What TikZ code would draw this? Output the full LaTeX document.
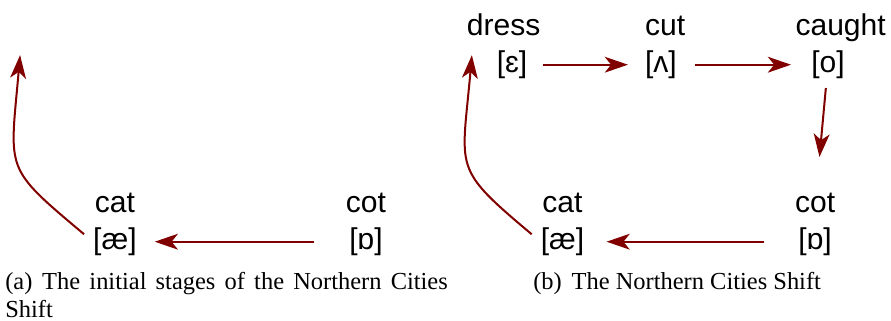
\documentclass[tikz,border=0pt]{standalone}
\usepackage{fontspec}
\setmainfont{Liberation Serif}
\newfontfamily\vowelfont{Liberation Sans}
\usetikzlibrary{positioning,arrows.meta}
\definecolor{ShiftRed}{RGB}{128,0,0}
\tikzset{
  ipa/.style={font=\vowelfont\fontsize{28.5}{34}\selectfont,inner sep=0pt,
    text height=22.8pt,text depth=7.1pt},
  word/.style={ipa},
  shiftarrow/.style={draw=ShiftRed,line width=1.9pt,
    -{Stealth[length=22pt,width=15pt,inset=6pt]}},
  capt/.style={font=\fontsize{23.2}{27}\selectfont,inner sep=0pt},
}

\begin{document}
\begin{tikzpicture}
\useasboundingbox (0,0) rectangle (29.7,10.667);
% (a) initial stages
\node[ipa] (ae1) at (3.83,2.61) {[æ]};
\node[ipa] (ob1) at (12.2,2.61) {[ɒ]};
\node[word,above=5pt of ae1] (cat1) {cat};
\node[word,above=5pt of ob1] (cot1) {cot};
\coordinate (top1) at (0.67,8.83);
\draw[shiftarrow,shorten <=33pt,shorten >=17pt] (ob1) -- (ae1);
\draw[shiftarrow,shorten <=11pt] (ae1.west) to[out=140,in=-95,looseness=1.5] (top1);
% (b) full shift
\node[ipa] (eps) at (17.07,8.51) {[ɛ]};
\node[ipa] (wedge) at (22.03,8.51) {[ʌ]};
\node[ipa] (oo) at (27.6,8.51) {[o]};
\node[ipa] (ob2) at (27.17,2.61) {[ɒ]};
\node[ipa] (ae2) at (18.75,2.61) {[æ]};
\node[word,above=5pt of eps,xshift=-8pt] (dress) {dress};
\node[word,above=5pt of wedge,xshift=4pt] (cut) {cut};
\node[word,above=5pt of oo,xshift=12pt] (caught) {caught};
\node[word,above=5pt of ob2] (cot2) {cot};
\node[word,above=5pt of ae2] (cat2) {cat};
\coordinate (top2) at (15.73,8.83);
\draw[shiftarrow,shorten <=15pt,shorten >=16pt] (eps) -- (wedge);
\draw[shiftarrow,shorten <=17pt,shorten >=19pt] (wedge) -- (oo);
\draw[shiftarrow,shorten <=7pt,shorten >=30pt] (oo) -- (cot2);
\draw[shiftarrow,shorten <=32pt,shorten >=21pt] (ob2) -- (ae2);
\draw[shiftarrow,shorten <=11pt] (ae2.west) to[out=140,in=-95,looseness=1.5] (top2);
% captions
\node[capt,text width=14.75cm,align=justify,anchor=base west] (capa) at (0.17,1.03)
  {(a)\hspace{0.4em}The initial stages of the Northern Cities Shift};
\node[capt,anchor=base west] (capb) at (17.77,1.03)
  {(b)\hspace{0.4em}The Northern Cities Shift};
\end{tikzpicture}
\end{document}
